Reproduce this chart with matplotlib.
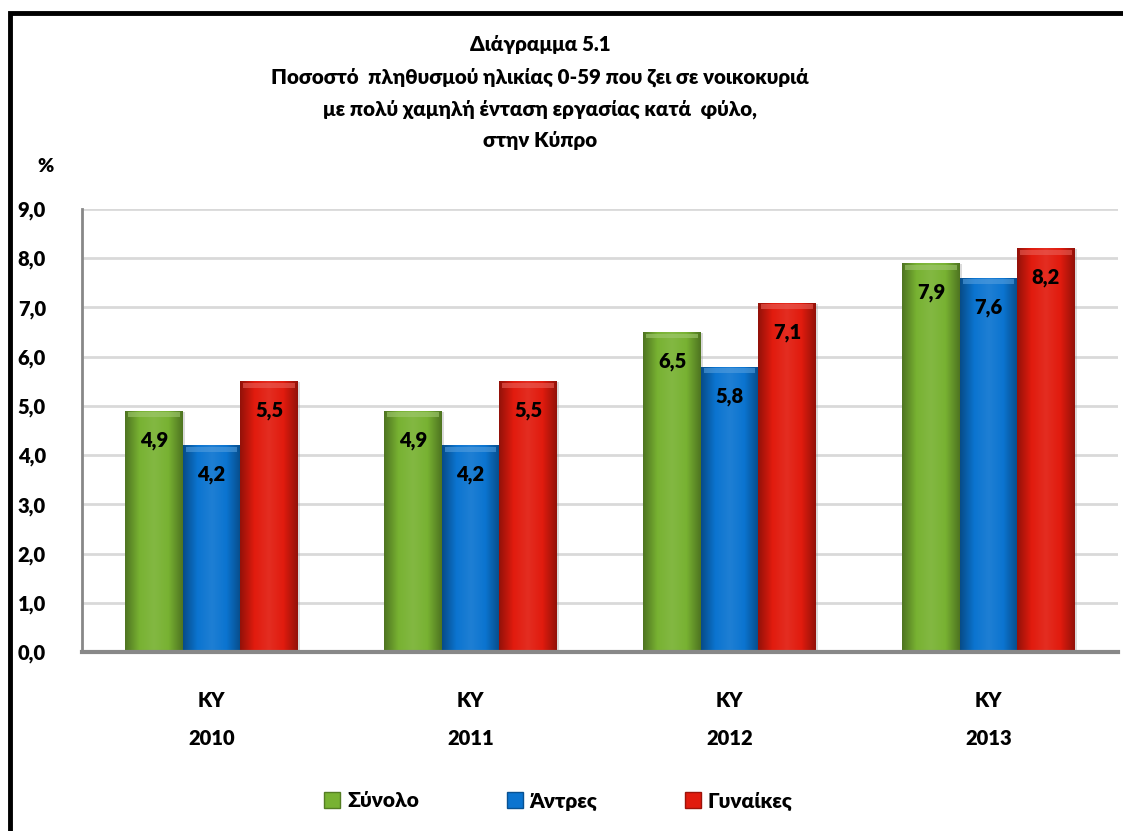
import matplotlib
matplotlib.use("Agg")
import matplotlib.pyplot as plt
import numpy as np
from matplotlib.patches import Rectangle
from matplotlib.lines import Line2D
from matplotlib.colors import LinearSegmentedColormap, to_rgb

plt.rcParams['font.family'] = ['Lato', 'Open Sans', 'DejaVu Sans']
FW = "heavy"

categories = ["ΚΥ\n2010", "ΚΥ\n2011", "ΚΥ\n2012", "ΚΥ\n2013"]
series_names = ["Σύνολο", "Άντρες", "Γυναίκες"]
total = [4.9, 4.9, 6.5, 7.9]
men = [4.2, 4.2, 5.8, 7.6]
women = [5.5, 5.5, 7.1, 8.2]
yticks = [0, 1, 2, 3, 4, 5, 6, 7, 8, 9]
title_lines = ["Διάγραμμα 5.1",
               "Ποσοστό  πληθυσμού ηλικίας 0-59 που ζει σε νοικοκυριά",
               "με πολύ χαμηλή ένταση εργασίας κατά  φύλο,",
               "στην Κύπρο"]

colors = ["#78B232", "#0B74D0", "#E11B0E"]
series = [total, men, women]

W, H = 1123, 831
fig = plt.figure(figsize=(W / 100, H / 100), dpi=100)
ax = fig.add_axes([82 / W, 1 - 652 / H, (1118 - 82) / W, (652 - 209) / H])

x = np.arange(len(categories))
bw = 0.222
offsets = [-bw, 0, bw]


def shade(c, f):
    r = np.array(to_rgb(c))
    if f < 0:
        return tuple(r * (1 + f))
    return tuple(r + (1 - r) * f)


for si, (vals, col) in enumerate(zip(series, colors)):
    cmap = LinearSegmentedColormap.from_list(
        "g%d" % si, [shade(col, -0.35), col, shade(col, 0.08), col, shade(col, -0.35)])
    grad = np.linspace(0, 1, 256).reshape(1, -1)
    for xi, v in zip(x, vals):
        x0 = xi + offsets[si] - bw / 2
        ax.add_patch(Rectangle((x0 + 0.008, 0), bw, v - 0.02, facecolor="#999999",
                               alpha=0.35, edgecolor="none", zorder=2))
        bar = ax.bar(xi + offsets[si], v, width=bw, color=col, edgecolor="none", zorder=3)
        im = ax.imshow(grad, extent=[x0, x0 + bw, 0, v], aspect="auto",
                       cmap=cmap, zorder=3.1)
        im.set_clip_path(bar.patches[0])
        ax.add_patch(Rectangle((x0 + 0.012, v - 0.13), bw - 0.024, 0.1,
                               facecolor=shade(col, 0.3), edgecolor="none",
                               alpha=0.6, zorder=3.2))
        ax.text(xi + offsets[si], v - 0.6, ("%.1f" % v).replace(".", ","),
                ha="center", va="center", fontsize=14.5, fontweight=FW,
                color="black", zorder=5)

ax.set_xlim(-0.5, len(categories) - 0.5)
ax.set_ylim(0, 9)
ax.set_yticks(yticks)
ax.set_yticklabels([("%.1f" % t).replace(".", ",") for t in yticks],
                   fontsize=14.5, fontweight=FW)
ax.set_xticks(x)
ax.set_xticklabels(categories, fontsize=14.5, fontweight=FW, linespacing=2.2)
ax.tick_params(axis="both", length=0)
ax.tick_params(axis="y", pad=26)
ax.tick_params(axis="x", pad=28)
ax.grid(axis="y", color="#D9D9D9", linewidth=2, zorder=0)
ax.set_axisbelow(True)
for s in ["top", "right"]:
    ax.spines[s].set_visible(False)
ax.spines["left"].set_color("#888888")
ax.spines["left"].set_linewidth(2)
ax.spines["bottom"].set_color("#888888")
ax.spines["bottom"].set_linewidth(3)
ax.spines["bottom"].set_zorder(6)

ys = [45, 77, 109, 141]
for t, yy in zip(title_lines, ys):
    fig.text(540 / W, 1 - yy / H, t, ha="center", va="center",
             fontsize=14.8, fontweight=FW)
fig.text(45 / W, 1 - 167 / H, "%", ha="center", va="center",
         fontsize=14, fontweight=FW)

handles = [Line2D([], [], marker="s", linestyle="none", markersize=12,
                  markerfacecolor=c, markeredgecolor=shade(c, -0.3))
           for c in colors]
fig.legend(handles, series_names, loc="center", bbox_to_anchor=(552 / W, 1 - 801 / H),
           ncol=3, frameon=False, handletextpad=-0.3, columnspacing=3.6,
           prop={"size": 15, "weight": FW})

fig.patches.append(Rectangle((9.5 / W, -0.05), 1.1, 1 - 13.5 / H + 0.05,
                             transform=fig.transFigure, fill=False,
                             edgecolor="black", linewidth=3.5, figure=fig))

fig.savefig("out.png", dpi=100)
